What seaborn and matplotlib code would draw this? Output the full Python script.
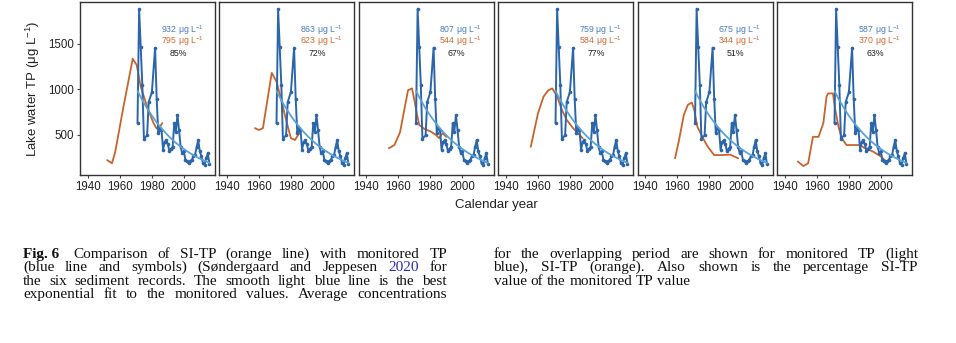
import numpy as np
import pandas as pd
import matplotlib
matplotlib.use("Agg")
import matplotlib.pyplot as plt
import seaborn as sns

# ---------------- data ----------------
mon_years = [1971, 1972, 1973, 1974, 1975, 1977, 1978, 1980, 1982, 1983, 1984, 1985,
             1986, 1987, 1988, 1989, 1990, 1991, 1992, 1993, 1994, 1995, 1996, 1997,
             1998, 1999, 2000, 2001, 2002, 2003, 2004, 2005, 2006, 2007, 2008, 2009,
             2010, 2011, 2012, 2013, 2014, 2015, 2016]
mon_tp = [630, 1880, 1465, 1050, 460, 495, 860, 970, 1455, 895, 520, 575,
          560, 340, 425, 440, 400, 320, 350, 370, 630, 535, 720, 550,
          370, 300, 320, 225, 210, 190, 210, 230, 265, 280, 370, 445,
          320, 265, 190, 175, 245, 300, 185]

si_years_1 = [1952, 1955, 1957, 1962, 1968, 1970.5, 1973, 1977, 1981, 1983, 1985, 1986.5]
si_tp_1 = [225, 190, 310, 790, 1335, 1265, 1030, 810, 630, 570, 590, 630]
si_years_2 = [1957.5, 1960, 1962.5, 1968, 1971, 1974, 1977, 1980, 1982.5, 1986]
si_tp_2 = [575, 555, 575, 1180, 1085, 880, 665, 465, 445, 540]
si_years_3 = [1954, 1957.5, 1961, 1966, 1968.5, 1970, 1971.5, 1973, 1976, 1980.5, 1983.5, 1985.5, 1987.5, 1990]
si_tp_3 = [355, 390, 530, 990, 1010, 880, 735, 610, 570, 535, 500, 465, 520, 480]
si_years_4 = [1955.5, 1960, 1963.5, 1966.5, 1969, 1972, 1975, 1978, 1982, 1985, 1988]
si_tp_4 = [370, 735, 920, 990, 1010, 920, 775, 665, 575, 520, 465]
si_years_5 = [1958.5, 1961, 1964, 1966.5, 1969, 1970.5, 1972.5, 1976, 1979, 1983, 1988, 1993, 1998]
si_tp_5 = [245, 445, 720, 830, 855, 775, 590, 465, 370, 280, 280, 285, 245]
si_years_6 = [1948, 1951.5, 1954.5, 1957.5, 1961, 1964, 1966, 1967, 1970, 1971.5, 1973.5, 1975.5,
              1978.5, 1987, 1990, 1995, 2000, 2004, 2005.5]
si_tp_6 = [210, 160, 190, 480, 480, 630, 920, 955, 955, 775, 590, 465,
           390, 390, 355, 320, 265, 200, 225]

si_years = [si_years_1, si_years_2, si_years_3, si_years_4, si_years_5, si_years_6]
si_tp = [si_tp_1, si_tp_2, si_tp_3, si_tp_4, si_tp_5, si_tp_6]

mon_avg = [932, 863, 807, 759, 675, 587]
si_avg = [795, 623, 544, 584, 344, 370]
pct = [85, 72, 67, 77, 51, 63]

x_ticks = [1940, 1960, 1980, 2000]
y_ticks = [500, 1000, 1500]

# ---------------- style ----------------
sns.set_theme(style="white")
plt.rcParams['font.family'] = ['Liberation Sans', 'DejaVu Sans']
plt.rcParams['mathtext.default'] = 'regular'

C_BLUE = "#2C66AA"
C_FIT = "#5AA2DA"
C_ORANGE = "#C9632B"
C_TXT_BLUE = "#4A7DC0"
C_TXT_OR = "#D2692F"

W, H = 956, 343
fig = plt.figure(figsize=(W / 100, H / 100), dpi=100)
fig.patch.set_facecolor("white")

# exponential fit (log-linear least squares) to monitored values
my = np.array(mon_years, dtype=float)
mv = np.array(mon_tp, dtype=float)
b, a = np.polyfit(my - my.min(), np.log(mv), 1)
fit_x = np.linspace(my.min(), my.max(), 100)
fit_y = np.exp(a + b * (fit_x - my.min()))

mon_df = pd.DataFrame({"year": mon_years, "tp": mon_tp})
fit_df = pd.DataFrame({"year": fit_x, "tp": fit_y})

lefts = [80, 219, 358.5, 498, 637.5, 777]
pw = 135
top, bottom = 2, 175

for i in range(6):
    ax = fig.add_axes([lefts[i] / W, 1 - bottom / H, pw / W, (bottom - top) / H])
    si_df = pd.DataFrame({"year": si_years[i], "tp": si_tp[i]})
    sns.lineplot(data=si_df, x="year", y="tp", ax=ax, color=C_ORANGE, lw=1.3,
                 estimator=None, sort=False)
    sns.lineplot(data=mon_df, x="year", y="tp", ax=ax, color=C_BLUE, lw=1.4,
                 marker="o", markersize=2.6, markeredgewidth=0, estimator=None, sort=False)
    sns.lineplot(data=fit_df, x="year", y="tp", ax=ax, color=C_FIT, lw=1.3,
                 estimator=None, sort=False)
    ax.set_xlim(1935, 2019.5)
    ax.set_ylim(62, 1956)
    ax.set_xticks(x_ticks)
    ax.set_xticklabels([str(t) for t in x_ticks], fontsize=8.3, color="#222222")
    ax.tick_params(axis="x", length=2.5, width=0.8, color="#444444", pad=2, bottom=True)
    if i == 0:
        ax.set_yticks(y_ticks)
        ax.set_yticklabels([str(t) for t in y_ticks], fontsize=8.3, color="#222222")
        ax.tick_params(axis="y", length=2.5, width=0.8, color="#444444", pad=2, left=True)
        ax.set_ylabel("Lake water TP (μg L$^{-1}$)", fontsize=9.5, color="#222222", labelpad=4)
    else:
        ax.set_yticks([])
        ax.set_ylabel("")
    ax.set_xlabel("")
    for sp in ax.spines.values():
        sp.set_color("#333333")
        sp.set_linewidth(1.0)
    ax.text(0.915, 0.84, f"{mon_avg[i]} μg L$^{{-1}}$", transform=ax.transAxes,
            ha="right", va="center", fontsize=6.3, color=C_TXT_BLUE)
    ax.text(0.915, 0.772, f"{si_avg[i]} μg L$^{{-1}}$", transform=ax.transAxes,
            ha="right", va="center", fontsize=6.3, color=C_TXT_OR)
    ax.text(0.725, 0.70, f"{pct[i]}%", transform=ax.transAxes,
            ha="center", va="center", fontsize=6.3, color="#222222")

fig.text(496 / W, 1 - 205 / H, "Calendar year", ha="center", va="center",
         fontsize=9.5, color="#222222")

# ---------------- caption ----------------
SERIF = ['Liberation Serif', 'DejaVu Serif']
CAP_FS = 11.0
LINK = "#2B2BB0"
BLACK = "#111111"


def tokens_from(parts):
    toks = []
    for text, color, weight, extra, nosplit in parts:
        words = [text] if nosplit else text.split(" ")
        for w in words:
            if w:
                toks.append([w, color, weight, 0.0])
        if toks:
            toks[-1][3] += extra
    return toks


def place_line(parts, x0, x1, ybase, justify=True):
    toks = tokens_from(parts)
    objs = []
    for w, color, weight, extra in toks:
        t = fig.text(0, 1 - ybase / H, w, fontsize=CAP_FS, color=color,
                     fontweight=weight, family=SERIF, ha="left", va="baseline")
        objs.append(t)
    fig.canvas.draw()
    r = fig.canvas.get_renderer()
    widths = [o.get_window_extent(r).width for o in objs]
    extras = [tk[3] for tk in toks]
    n = len(objs)
    total = sum(widths) + sum(extras[:-1])
    if justify and n > 1:
        gap = (x1 - x0 - total) / (n - 1)
    else:
        gap = CAP_FS * 100 / 72 * 0.25
    x = x0
    for k, o in enumerate(objs):
        o.set_x(x / W)
        x += widths[k] + gap + extras[k]


left_lines = [
    [("Fig. 6", BLACK, "bold", 4.0, True),
     ("Comparison of SI-TP (orange line) with monitored TP", BLACK, "normal", 0, False)],
    [("(blue line and symbols) (Søndergaard and Jeppesen", BLACK, "normal", 0, False),
     ("2020", LINK, "normal", 0, False), ("for", BLACK, "normal", 0, False)],
    [("the six sediment records. The smooth light blue line is the best", BLACK, "normal", 0, False)],
    [("exponential fit to the monitored values. Average concentrations", BLACK, "normal", 0, False)],
]
right_lines = [
    [("for the overlapping period are shown for monitored TP (light", BLACK, "normal", 0, False)],
    [("blue), SI-TP (orange). Also shown is the percentage SI-TP", BLACK, "normal", 0, False)],
    [("value of the monitored TP value", BLACK, "normal", 0, False)],
]
bases = [258.0, 271.3, 284.6, 297.9]
for k, ln in enumerate(left_lines):
    place_line(ln, 23, 447, bases[k], justify=True)
for k, ln in enumerate(right_lines):
    place_line(ln, 493.5, 918, bases[k], justify=(k < 2))

fig.savefig("out.png", dpi=100, facecolor="white")
